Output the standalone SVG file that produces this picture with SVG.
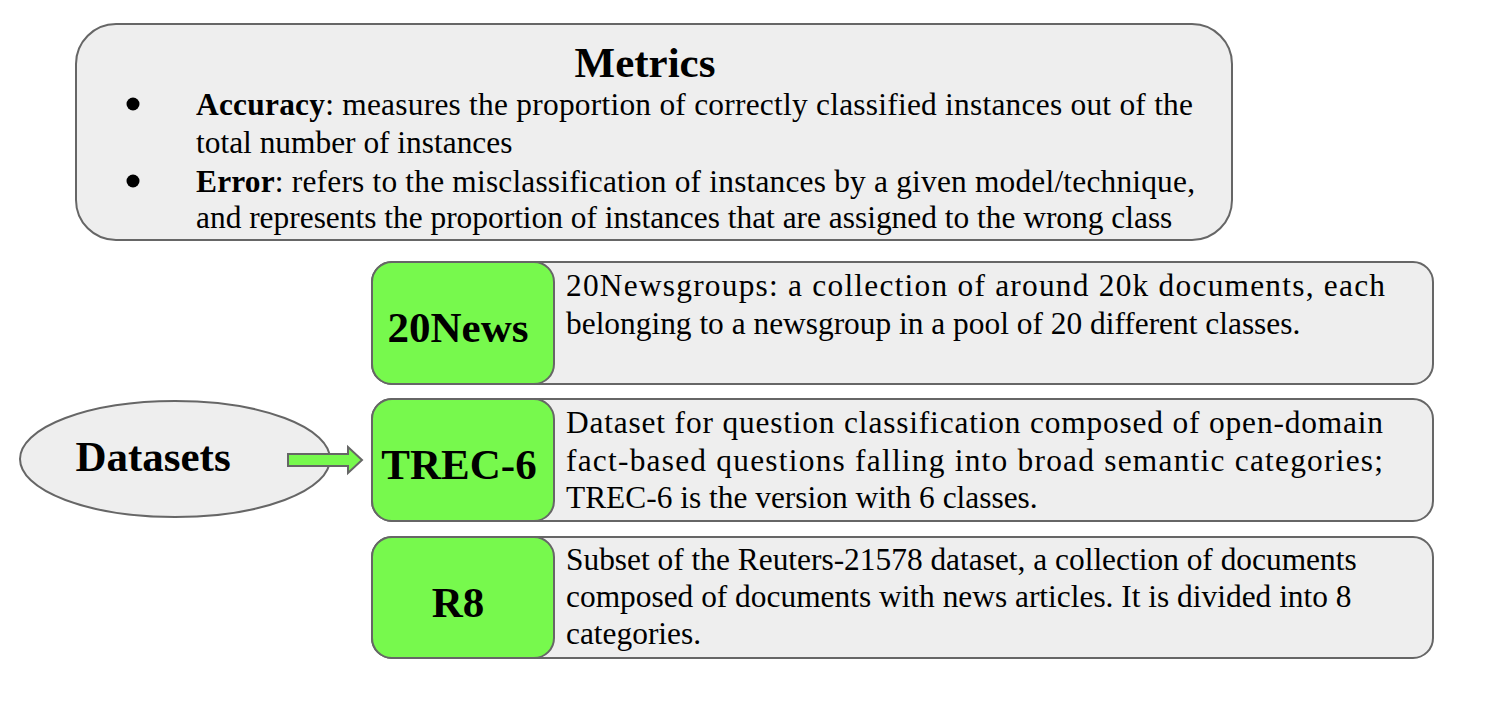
<svg xmlns="http://www.w3.org/2000/svg" width="1486" height="704" viewBox="0 0 1486 704">
<style>
.box{fill:#eeeeee;stroke:#666666;stroke-width:2}
.green{fill:#77f94d;stroke:#666666;stroke-width:2}
.body{font-family:"Liberation Serif","Times New Roman",serif;font-size:31.4px;fill:#000}
.title{font-family:"Liberation Serif","Times New Roman",serif;font-size:43px;font-weight:bold;fill:#000;text-anchor:middle}
.b{font-weight:bold}
</style>
<rect width="1486" height="704" fill="#ffffff"/>
<g id="metrics">
<rect class="box" x="76" y="24" width="1156" height="216" rx="40" ry="40"/>
<text class="title" x="645" y="77">Metrics</text>
<circle cx="133" cy="104" r="6.5" fill="#000"/>
<circle cx="133" cy="181" r="6.5" fill="#000"/>
<text class="body" x="196" y="115" textLength="997" lengthAdjust="spacing"><tspan class="b">Accuracy</tspan>: measures the proportion of correctly classified instances out of the</text>
<text class="body" x="196" y="153">total number of instances</text>
<text class="body" x="196" y="192" textLength="999" lengthAdjust="spacing"><tspan class="b">Error</tspan>: refers to the misclassification of instances by a given model/technique,</text>
<text class="body" x="196" y="228">and represents the proportion of instances that are assigned to the wrong class</text>
</g>
<g id="datasets">
<ellipse class="box" cx="175" cy="459" rx="155" ry="58"/>
<text class="title" x="153" y="471">Datasets</text>
</g>
<g id="row-20news">
<rect class="box" x="372" y="262" width="1061" height="122" rx="20" ry="20"/>
<rect class="green" x="372" y="262" width="182" height="122" rx="20" ry="20"/>
<text class="title" x="458" y="342">20News</text>
<text class="body" x="566" y="296" textLength="819" lengthAdjust="spacing">20Newsgroups: a collection of around 20k documents, each</text>
<text class="body" x="566" y="334">belonging to a newsgroup in a pool of 20 different classes.</text>
</g>
<g id="row-trec6">
<rect class="box" x="372" y="399" width="1061" height="122" rx="20" ry="20"/>
<rect class="green" x="372" y="399" width="182" height="122" rx="20" ry="20"/>
<text class="title" x="459" y="479">TREC-6</text>
<text class="body" x="566" y="433" textLength="817" lengthAdjust="spacing">Dataset for question classification composed of open-domain</text>
<text class="body" x="566" y="471" textLength="817" lengthAdjust="spacing">fact-based questions falling into broad semantic categories;</text>
<text class="body" x="566" y="508">TREC-6 is the version with 6 classes.</text>
</g>
<g id="row-r8">
<rect class="box" x="372" y="537" width="1061" height="121" rx="20" ry="20"/>
<rect class="green" x="372" y="537" width="182" height="121" rx="20" ry="20"/>
<text class="title" x="458" y="617">R8</text>
<text class="body" x="566" y="570">Subset of the Reuters-21578 dataset, a collection of documents</text>
<text class="body" x="566" y="607">composed of documents with news articles. It is divided into 8</text>
<text class="body" x="566" y="644">categories.</text>
</g>
<g id="connectors">
<path d="M288,454 L348,454 L348,447 L362,460 L348,473 L348,466 L288,466 Z" fill="#77f94d" stroke="#666666" stroke-width="2"/>
</g>
</svg>
